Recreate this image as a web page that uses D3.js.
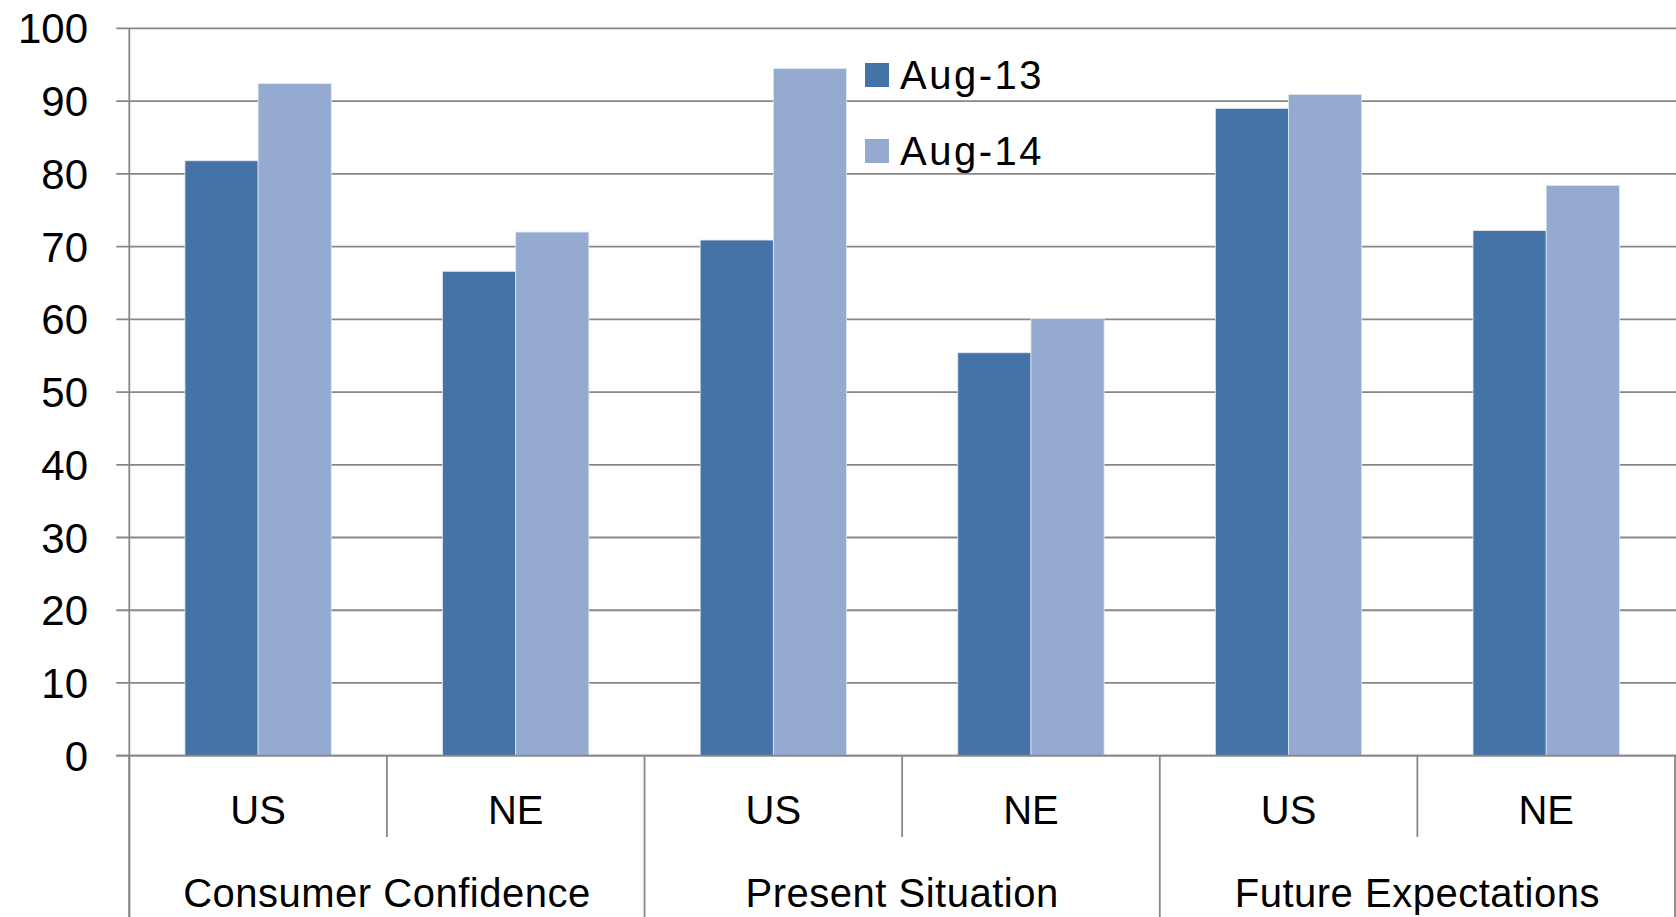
<!DOCTYPE html>
<html>
<head>
<meta charset="utf-8">
<script src="https://cdn.jsdelivr.net/npm/d3@7"></script>
<style>
  html, body { margin: 0; padding: 0; background: #fff; overflow: hidden; }
  svg { display: block; font-family: "Liberation Sans", Arial, sans-serif; }
</style>
</head>
<body>
<svg id="chart" width="1676" height="917"></svg>
<script>
// chart values
var groups = ["Consumer Confidence", "Present Situation", "Future Expectations"];
var regions = ["US", "NE"];
var series = ["Aug-13", "Aug-14"];
var aug13 = [81.8, 66.6, 70.9, 55.4, 89.0, 72.2];
var aug14 = [92.4, 72.0, 94.5, 60.1, 90.9, 78.4];
var yTicks = [0, 10, 20, 30, 40, 50, 60, 70, 80, 90, 100];
var colors = ["#4572a7", "#95aad0"];

var W = 1676, H = 917;
var plotLeft = 129.3, plotRight = 1675, plotTop = 28.4, plotBase = 755.7;

var svg = d3.select("#chart");

// one slot per group/region pair
var keys = [];
groups.forEach(function(g, gi){
  regions.forEach(function(r, ri){
    keys.push({key: g + "|" + r, group: g, region: r, i: gi * regions.length + ri});
  });
});

var x = d3.scaleBand().domain(keys.map(d => d.key)).range([plotLeft, plotRight])
  .paddingInner(0.432).paddingOuter(0.216);
var xs = d3.scaleBand().domain(series).range([0, x.bandwidth()]);
var y = d3.scaleLinear().domain([0, 100]).range([plotBase, plotTop]);

// gridlines + little ticks left of the axis
svg.append("g").selectAll("line").data(yTicks).enter().append("line")
  .attr("x1", plotLeft - 13).attr("x2", W)
  .attr("y1", d => y(d)).attr("y2", d => y(d))
  .style("stroke", "#878787").style("stroke-width", 1.8);

svg.append("g").selectAll("text").data(yTicks).enter().append("text")
  .attr("x", 88).attr("y", d => y(d) + 15)
  .attr("text-anchor", "end")
  .style("font-size", "42px").style("fill", "#000")
  .text(d => d);

// y axis line, runs down into the category box
svg.append("line").attr("x1", plotLeft).attr("x2", plotLeft).attr("y1", plotTop).attr("y2", H)
  .style("stroke", "#878787").style("stroke-width", 1.8);

// bars
var rows = [];
keys.forEach(function(k){
  rows.push({k: k.key, s: series[0], v: aug13[k.i], c: colors[0]});
  rows.push({k: k.key, s: series[1], v: aug14[k.i], c: colors[1]});
});
svg.append("g").selectAll("rect").data(rows).enter().append("rect")
  .attr("x", d => x(d.k) + xs(d.s))
  .attr("width", xs.bandwidth())
  .attr("y", d => y(d.v))
  .attr("height", d => y(0) - y(d.v))
  .style("fill", d => d.c)
  .style("stroke", "#dfe6f1").style("stroke-width", 0.8);

// zero line
svg.append("line").attr("x1", plotLeft - 13).attr("x2", W).attr("y1", plotBase).attr("y2", plotBase)
  .style("stroke", "#878787").style("stroke-width", 1.8);

// category separators
var seps = d3.range(keys.length + 1);
svg.append("g").selectAll("line").data(seps).enter().append("line")
  .attr("x1", d => x.range()[0] + d * x.step())
  .attr("x2", d => x.range()[0] + d * x.step())
  .attr("y1", plotBase)
  .attr("y2", d => d % regions.length == 0 ? H : 837)
  .style("stroke", "#878787").style("stroke-width", 1.8);

// region labels
svg.append("g").selectAll("text").data(keys).enter().append("text")
  .attr("x", d => x(d.key) + x.bandwidth() / 2)
  .attr("y", 824)
  .attr("text-anchor", "middle")
  .style("font-size", "40px")
  .text(d => d.region);

// group labels
svg.append("g").selectAll("text").data(groups).enter().append("text")
  .attr("x", (d, i) => x.range()[0] + (i * regions.length + regions.length / 2) * x.step())
  .attr("y", 907)
  .attr("text-anchor", "middle")
  .style("font-size", "40px")
  .style("letter-spacing", "0.5px")
  .text(d => d);

// legend
var leg = svg.append("g");
series.forEach(function(s, i){
  leg.append("rect").attr("x", 865).attr("y", 63 + i * 76).attr("width", 24).attr("height", 24)
    .style("fill", colors[i]);
  leg.append("text").attr("x", 900).attr("y", 89 + i * 76)
    .style("font-size", "40px").style("letter-spacing", "2.5px")
    .text(s);
});
</script>
</body>
</html>
